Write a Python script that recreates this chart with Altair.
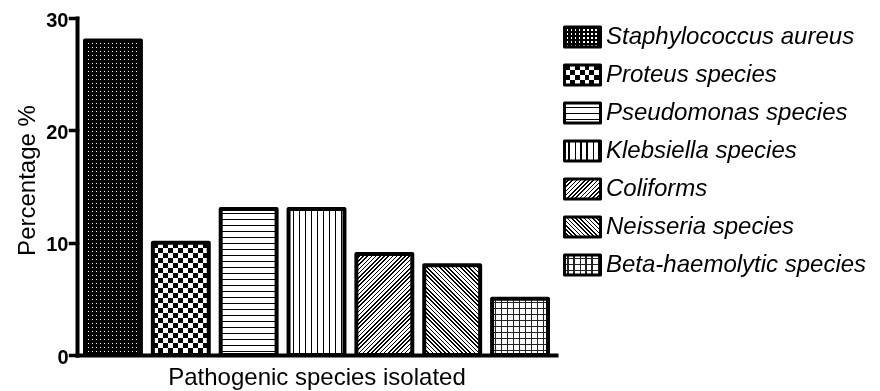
import altair as alt
import pandas as pd

# ---------------- data ----------------
species = [
    "Staphylococcus aureus",
    "Proteus species",
    "Pseudomonas species",
    "Klebsiella species",
    "Coliforms",
    "Neisseria species",
    "Beta-haemolytic species",
]
percent = [28, 10, 13, 13, 9, 8, 5]
y_ticks = [0, 10, 20, 30]
x_title = "Pathogenic species isolated"
y_title = "Percentage %"

df = pd.DataFrame({"species": species, "percent": percent})

# ---------------- layout ----------------
W, H = 479, 337
YMAX = 30
PI, PO = 0.176, 0.118
STEP = W / (len(species) - PI + 2 * PO)
BW = STEP * (1 - PI)

# legend geometry (pixels relative to plot origin)
LX0, LX1 = 487.5, 523.5
LTX = 529
L_BAND = 20
L_STEP = 38
LPI = 1 - L_BAND / L_STEP
L_START = 9
L_RANGE = [L_START, L_START + L_STEP * (len(species) - LPI)]

BLACK = "#000000"
WHITE = "#ffffff"
CLEAR = "rgba(255,255,255,0)"
GRID = "#222222"


def stripe_stops(length, period, lw, on, off, start=0.0):
    stops = [{"offset": 0, "color": off}]
    p = start
    while p < length:
        a = round(max(p, 0) / length, 5)
        b = round(min(p + lw, length) / length, 5)
        stops += [
            {"offset": a, "color": off},
            {"offset": a, "color": on},
            {"offset": b, "color": on},
            {"offset": b, "color": off},
        ]
        p += period
    stops.append({"offset": 1, "color": off})
    return stops


def horiz(w, h, period, lw, on, off, start=0.0):
    return {"gradient": "linear", "x1": 0, "y1": 0, "x2": 0, "y2": 1,
            "stops": stripe_stops(h, period, lw, on, off, start)}


def vert(w, h, period, lw, on, off, start=0.0):
    return {"gradient": "linear", "x1": 0, "y1": 0, "x2": 1, "y2": 0,
            "stops": stripe_stops(w, period, lw, on, off, start)}


def diag_up(w, h, period, lw):
    k = (w + h) * w / (w * w + h * h)
    return {"gradient": "linear", "x1": 0, "y1": 0, "x2": k, "y2": k * h / w,
            "stops": stripe_stops(w + h, period, lw, BLACK, WHITE)}


def diag_down(w, h, period, lw):
    k = (w + h) * w / (w * w + h * h)
    return {"gradient": "linear", "x1": 1, "y1": 0, "x2": 1 - k, "y2": k * h / w,
            "stops": stripe_stops(w + h, period, lw, BLACK, WHITE)}


def patterns(i, w, h):
    """list of (gradient, blend) layers for species i in a w x h box"""
    if i == 0:
        return [(horiz(w, h, 4, 2.5, BLACK, WHITE), None),
                (vert(w, h, 4, 2.5, BLACK, CLEAR), None)]
    if i == 1:
        return [(horiz(w, h, 10, 5, BLACK, WHITE), None),
                (vert(w, h, 10, 5, BLACK, WHITE), "difference")]
    if i == 2:
        return [(horiz(w, h, 6, 1.5, BLACK, WHITE, 4), None)]
    if i == 3:
        return [(vert(w, h, 6, 1.5, BLACK, WHITE, 4), None)]
    if i == 4:
        return [(diag_up(w, h, 4.2, 1.6), None)]
    if i == 5:
        return [(diag_down(w, h, 4.2, 1.6), None)]
    return [(horiz(w, h, 6, 1.3, GRID, WHITE, 3), None),
            (vert(w, h, 6, 1.3, GRID, CLEAR, 3), None)]


# ---------------- encodings ----------------
x_enc = alt.X(
    "species:N", sort=species,
    scale=alt.Scale(domain=species, paddingInner=PI, paddingOuter=PO),
    axis=alt.Axis(labels=False, ticks=False, grid=False, domainWidth=4,
                  domainColor=BLACK, domainCap="square", title=x_title,
                  titleFontSize=24, titleFontWeight="normal", titleColor=BLACK,
                  titlePadding=10),
)
y_enc = alt.Y(
    "percent:Q",
    scale=alt.Scale(domain=[0, YMAX], nice=False),
    axis=alt.Axis(values=y_ticks, grid=False, domainWidth=4, domainColor=BLACK,
                  domainCap="square", tickSize=7, tickWidth=3.5, tickColor=BLACK,
                  tickCap="square", labelFontSize=20, labelFontWeight="bold",
                  labelColor=BLACK, labelPadding=2, labelOffset=2,
                  title=y_title, titleFontSize=24, titleFontWeight="normal",
                  titleColor=BLACK, titlePadding=6, titleY=162),
)
ly_enc = alt.Y(
    "species:N", sort=species,
    scale=alt.Scale(domain=species, range=L_RANGE, paddingInner=LPI, paddingOuter=0),
    axis=None,
)

base = alt.Chart(df)

bar_layers = []
legend_layers = []
for i, name in enumerate(species):
    h = percent[i] * H / YMAX
    for grad, blend in patterns(i, BW, h):
        kw = {"fill": grad, "strokeWidth": 0}
        if blend:
            kw["blend"] = blend
        bar_layers.append(
            base.transform_filter(alt.FieldEqualPredicate(field="species", equal=name))
            .mark_bar(**kw).encode(x=x_enc, y=y_enc)
        )
    for grad, blend in patterns(i, LX1 - LX0, L_BAND):
        kw = {"fill": grad, "strokeWidth": 0}
        if blend:
            kw["blend"] = blend
        legend_layers.append(
            base.transform_filter(alt.FieldEqualPredicate(field="species", equal=name))
            .mark_rect(**kw)
            .encode(x=alt.value(LX0), x2=alt.value(LX1), y=ly_enc)
        )

bar_layers.append(
    base.mark_bar(fillOpacity=0, stroke=BLACK, strokeWidth=4, strokeJoin="round")
    .encode(x=x_enc, y=y_enc)
)
legend_layers.append(
    base.mark_rect(fillOpacity=0, stroke=BLACK, strokeWidth=3, strokeJoin="round")
    .encode(x=alt.value(LX0), x2=alt.value(LX1), y=ly_enc)
)
legend_layers.append(
    base.mark_text(align="left", baseline="middle", fontSize=24, fontStyle="italic",
                   font="Liberation Sans", color=BLACK)
    .encode(x=alt.value(LTX), y=ly_enc, text="species:N")
)

chart = (
    alt.layer(alt.layer(*bar_layers), alt.layer(*legend_layers))
    .resolve_scale(y="independent")
    .properties(
        width=W, height=H,
        padding={"left": 69, "top": 10, "right": 310, "bottom": 36},
        autosize=alt.AutoSizeParams(type="none"),
    )
    .configure(font="Liberation Sans")
    .configure_view(strokeWidth=0)
)

chart.save("out.html", embed_options={"renderer": "svg", "actions": False})
